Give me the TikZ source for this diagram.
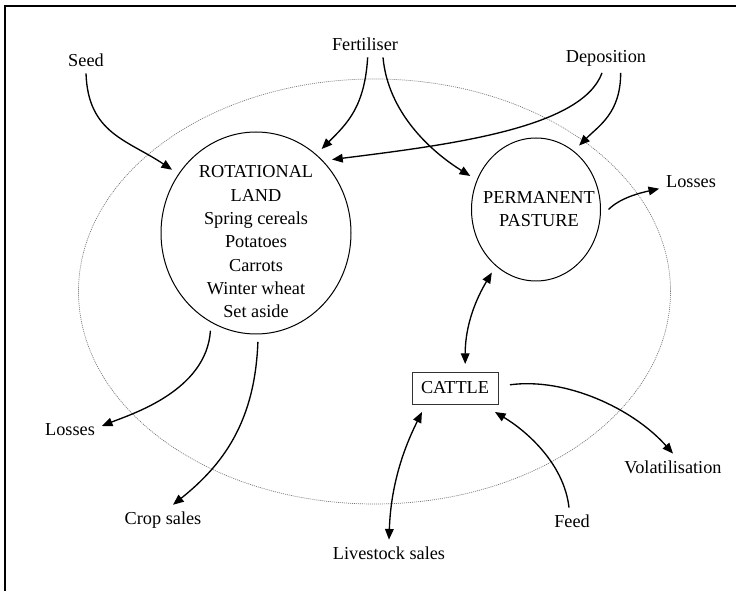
\documentclass[tikz,border=0pt]{standalone}
\usepackage{fontspec}
\setmainfont{Liberation Serif}
\usetikzlibrary{shapes.geometric,arrows.meta}
\begin{document}
\begin{tikzpicture}[x=0.75pt,y=-0.75pt,
  lbl/.style={inner sep=5pt, font=\fontsize{13.7pt}{17.5pt}\selectfont},
  landarea/.style={ellipse, draw, line width=0.75pt, inner sep=0pt, outer sep=6pt},
  farm/.style={ellipse, draw=black!55, dash pattern=on 0.75pt off 0.75pt, line width=0.5pt, inner sep=0pt},
  stock/.style={rectangle, draw=black!80, line width=0.6pt, minimum width=64.5pt,
    minimum height=24pt, inner sep=0pt, outer sep=6pt, font=\fontsize{13.7pt}{17.5pt}\selectfont},
  tip/.style={Triangle[length=8pt,width=6.5pt]},
  flow/.style={line width=1pt, -{Triangle[length=8pt,width=6.5pt]}},
  twoway/.style={line width=1pt, {Triangle[length=8pt,width=6.5pt]}-{Triangle[length=8pt,width=6.5pt]}},
]
\useasboundingbox (0,0) rectangle (736,591);

% frame on the top and left sides
\draw[line width=1.6pt] (5,591) -- (5,6) -- (736,6);

% farm boundary
\node[farm, minimum width=444pt, minimum height=318.75pt] (farm) at (374.5,291.5) {};

% land areas and livestock
\node[landarea, minimum width=142.5pt, minimum height=151.5pt] (rot) at (256,233) {};
\node[lbl, align=center] (rottext) at (256,242)
  {ROTATIONAL\\LAND\\Spring cereals\\Potatoes\\Carrots\\Winter wheat\\Set aside};
\node[landarea, minimum width=96.75pt, minimum height=107.25pt] (pas) at (536,209.5) {};
\node[lbl, align=center] (pastext) at (539,209) {PERMANENT\\PASTURE};
\node[stock] (cattle) at (455,388) {CATTLE};

% inputs and outputs
\node[lbl] (seed) at (86,60) {Seed};
\node[lbl] (fert) at (365,44) {Fertiliser};
\node[lbl] (depo) at (606,58) {Deposition};
\node[lbl] (losr) at (691,182) {Losses};
\node[lbl] (volat) at (673,467) {Volatilisation};
\node[lbl] (feed) at (572,521) {Feed};
\node[lbl] (lsales) at (389,553) {Livestock sales};
\node[lbl] (losl) at (70,430) {Losses};
\node[lbl] (crop) at (163,520) {Crop sales};

% flows
\draw[flow] (seed.south) .. controls +(2,60) and +(-45,-30) .. (rot.143);
\draw[flow] ([xshift=2pt]fert.south) .. controls +(-3,50) and +(25,-25) .. (rot.52);
\draw[flow] ([xshift=13.5pt]fert.south) .. controls +(5,55) and +(-40,-25) .. (pas.153);
\draw[flow] ([xshift=-3pt]depo.south) .. controls +(-20,55) and +(120,-15) .. (rot.44);
\draw[flow] ([xshift=11pt]depo.south) .. controls +(0,40) and +(20,-20) .. (pas.56);
\draw[flow] (pas.0) .. controls +(12,-12) and +(-18,4) .. ([yshift=-5pt]losr.west);
\draw[twoway] (pas.235) .. controls +(-15,25) and +(0,-40) .. (cattle.67);
\draw[flow, shorten <=3pt] (cattle.3) .. controls +(60,-8) and +(-40,-45) .. (volat.north);
\draw[flow] ([xshift=-2.25pt]feed.north) .. controls +(-5,-45) and +(30,18) .. (cattle.329);
\draw[twoway] (cattle.216) .. controls +(-15,30) and +(2,-60) .. (lsales.north);
\draw[flow] (rot.245) .. controls +(-4,60) and +(30,-12) .. ([yshift=3pt]losl.east);
\draw[flow] (rot.271) .. controls +(-3,80) and +(50,-40) .. ([xshift=7.5pt]crop.north);
\end{tikzpicture}
\end{document}
